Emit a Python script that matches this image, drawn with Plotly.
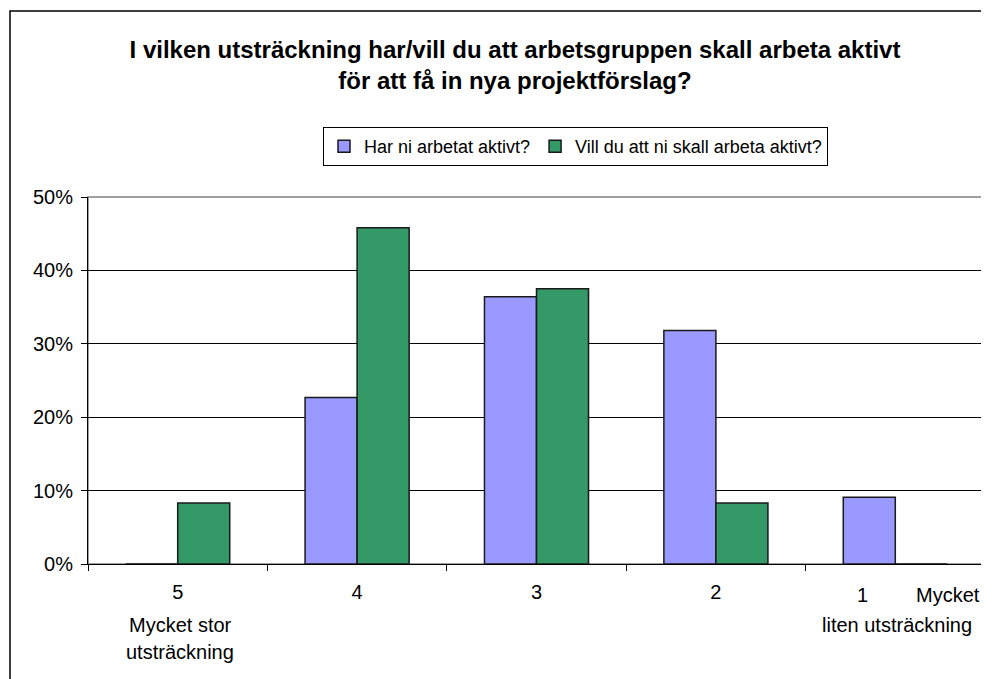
import plotly.graph_objects as go

categories = ["5", "4", "3", "2", "1"]
tick_labels = ["5", "4", "3", "2", ""]
har_arbetat = [0.0, 0.227, 0.364, 0.318, 0.091]
vill_arbeta = [0.083, 0.458, 0.375, 0.083, 0.0]

FONT = "Liberation Sans, Arial, sans-serif"
W, H = 981, 671          # page body has an 8px margin
L, R, T, B = 80, 4, 189, 115
PW, PH = W - L - R, H - T - B


def px_x(x):
    return (x - L) / PW


def px_y(y):
    return 1 - (y - T) / PH


fig = go.Figure()
fig.add_trace(go.Bar(
    x=categories, y=har_arbetat, name="Har ni arbetat aktivt?",
    marker=dict(color="#9999FF", line=dict(color="#1a1a1a", width=1.5)),
))
fig.add_trace(go.Bar(
    x=categories, y=vill_arbeta, name="Vill du att ni skall arbeta aktivt?",
    marker=dict(color="#339966", line=dict(color="#1a1a1a", width=1.5)),
))

fig.update_layout(
    width=W, height=H,
    paper_bgcolor="white", plot_bgcolor="white",
    margin=dict(l=L, r=R, t=T, b=B),
    font=dict(family=FONT, size=20, color="#000000"),
    title=dict(
        text="<b>I vilken utsträckning har/vill du att arbetsgruppen skall arbeta aktivt<br>för att få in nya projektförslag?</b>",
        x=507 / W, xanchor="center", y=1 - 50 / H, yanchor="top",
        font=dict(family=FONT, size=24),
    ),
    barmode="group", bargap=0.42, bargroupgap=0,
    showlegend=True,
    legend=dict(
        orientation="h", x=px_x(567.5), xanchor="center", y=px_y(119), yanchor="top",
        bordercolor="#000000", borderwidth=1, bgcolor="white",
        font=dict(family=FONT, size=18), itemwidth=30, tracegroupgap=0,
    ),
)

fig.update_xaxes(
    type="category", tickvals=categories, ticktext=tick_labels,
    tickson="boundaries", ticks="outside", ticklen=6, tickcolor="#000000",
    ticklabelstandoff=10,
    showline=True, linecolor="#000000", linewidth=1,
    showgrid=False, tickfont=dict(size=20),
)
fig.update_yaxes(
    range=[0, 0.5], dtick=0.1, tickformat=".0%",
    ticks="outside", ticklen=6, tickcolor="#000000", ticklabelstandoff=4,
    showline=True, linecolor="#000000", linewidth=1,
    showgrid=True, gridcolor="#000000", gridwidth=1,
    zeroline=False, tickfont=dict(size=20),
)

# plot area border (gray, Excel-style)
fig.add_shape(type="rect", xref="paper", yref="paper", x0=0, x1=1, y0=0, y1=1,
              line=dict(color="#808080", width=1.5), layer="below")

# outer chart frame (right and bottom edges lie outside the picture)
fig.add_shape(type="rect", xref="paper", yref="paper",
              x0=px_x(2), x1=px_x(W + 20), y0=px_y(H + 20), y1=px_y(3),
              line=dict(color="#000000", width=1.5))

# extra label lines, spaced like the Excel original
label_notes = [
    ("Mycket stor", 172, 617, "center"),
    ("utsträckning", 172, 644, "center"),
    ("1", 854, 587, "center"),
    ("Mycket", 974, 587, "right"),
    ("liten utsträckning", 889, 617, "center"),
]
for txt, xp, yp, anchor in label_notes:
    fig.add_annotation(text=txt, xref="paper", yref="paper",
                       x=px_x(xp), xanchor=anchor, y=px_y(yp), yanchor="middle",
                       showarrow=False, font=dict(size=20))

fig.write_html("out.html")
